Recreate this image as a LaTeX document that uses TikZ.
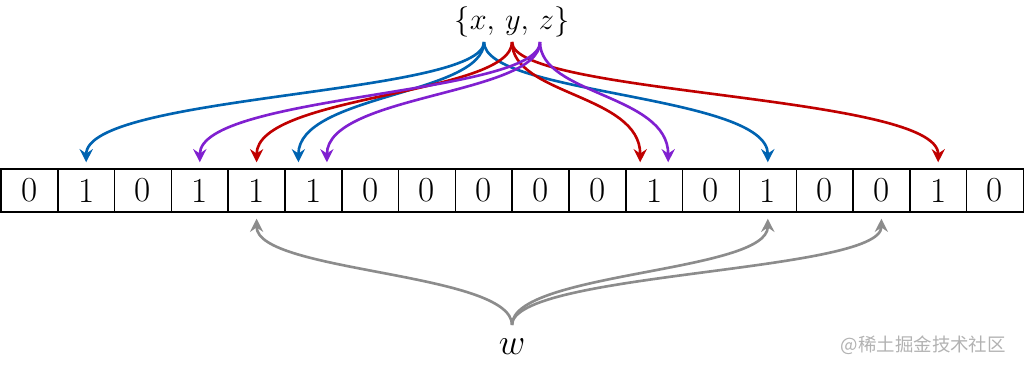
\documentclass[tikz,border=0pt]{standalone}
\usepackage{fontspec}
\newfontfamily\cjk{Noto Sans CJK SC}
\usetikzlibrary{arrows.meta}
\definecolor{hblue}{RGB}{0,99,177}
\definecolor{hred}{RGB}{192,0,0}
\definecolor{hpurple}{RGB}{128,32,208}
\definecolor{hgray}{RGB}{140,140,140}
\begin{document}
\begin{tikzpicture}[
	x=0.02cm, y=-0.02cm,
	cell/.style={
		rectangle, draw=black, line width=0.8pt,
		minimum width=1.136cm, minimum height=0.86cm,
		inner sep=0pt, font=\fontsize{20}{22}\selectfont
	},
	hash/.style={line width=1.5pt, -{Stealth[length=7.5pt,width=7.5pt,inset=2.5pt]}},
	]
	\useasboundingbox (0,0) rectangle (1024,368);
	\foreach \b [count=\i] in {0,1,0,1,1,1,0,0,0,0,0,1,0,1,0,0,1,0}
		\node [cell] (c\i) at ({1+56.8*(\i-0.5)},190.5) {\b};

	\node [font=\fontsize{18}{20}\selectfont] (keys) at (512,22) {$\{x,\,y,\,z\}$};
	\node [font=\fontsize{20}{22}\selectfont] (w) at (512,347) {$w$};
	\coordinate (kx) at (484,42);
	\coordinate (ky) at (512,42);
	\coordinate (kz) at (540,42);
	\coordinate (kw) at (512,325);

	\draw [hash, hblue] (kx) .. controls +(0,53) and +(0,-68) .. ([yshift=0.12cm]c2.north);
	\draw [hash, hblue] (kx) .. controls +(0,53) and +(0,-68) .. ([xshift=-0.3cm,yshift=0.12cm]c6.north);
	\draw [hash, hblue] (kx) .. controls +(0,53) and +(0,-68) .. ([yshift=0.12cm]c14.north);
	\draw [hash, hred] (ky) .. controls +(0,53) and +(0,-68) .. ([yshift=0.12cm]c5.north);
	\draw [hash, hred] (ky) .. controls +(0,53) and +(0,-68) .. ([xshift=-0.28cm,yshift=0.12cm]c12.north);
	\draw [hash, hred] (ky) .. controls +(0,53) and +(0,-68) .. ([yshift=0.12cm]c17.north);
	\draw [hash, hpurple] (kz) .. controls +(0,53) and +(0,-68) .. ([yshift=0.12cm]c4.north);
	\draw [hash, hpurple] (kz) .. controls +(0,53) and +(0,-68) .. ([xshift=0.27cm,yshift=0.12cm]c6.north);
	\draw [hash, hpurple] (kz) .. controls +(0,53) and +(0,-68) .. ([xshift=0.28cm,yshift=0.12cm]c12.north);

	\draw [hash, hgray] (kw) .. controls +(0,-53) and +(0,54) .. ([yshift=-0.12cm]c5.south);
	\draw [hash, hgray] (kw) .. controls +(0,-53) and +(0,54) .. ([yshift=-0.12cm]c14.south);
	\draw [hash, hgray] (kw) .. controls +(0,-53) and +(0,54) .. ([yshift=-0.12cm]c16.south);

	\node [font=\cjk\fontsize{10.5}{12}\selectfont, text=gray!60, anchor=east] (mark) at (1012,345) {@稀土掘金技术社区};
\end{tikzpicture}
\end{document}
